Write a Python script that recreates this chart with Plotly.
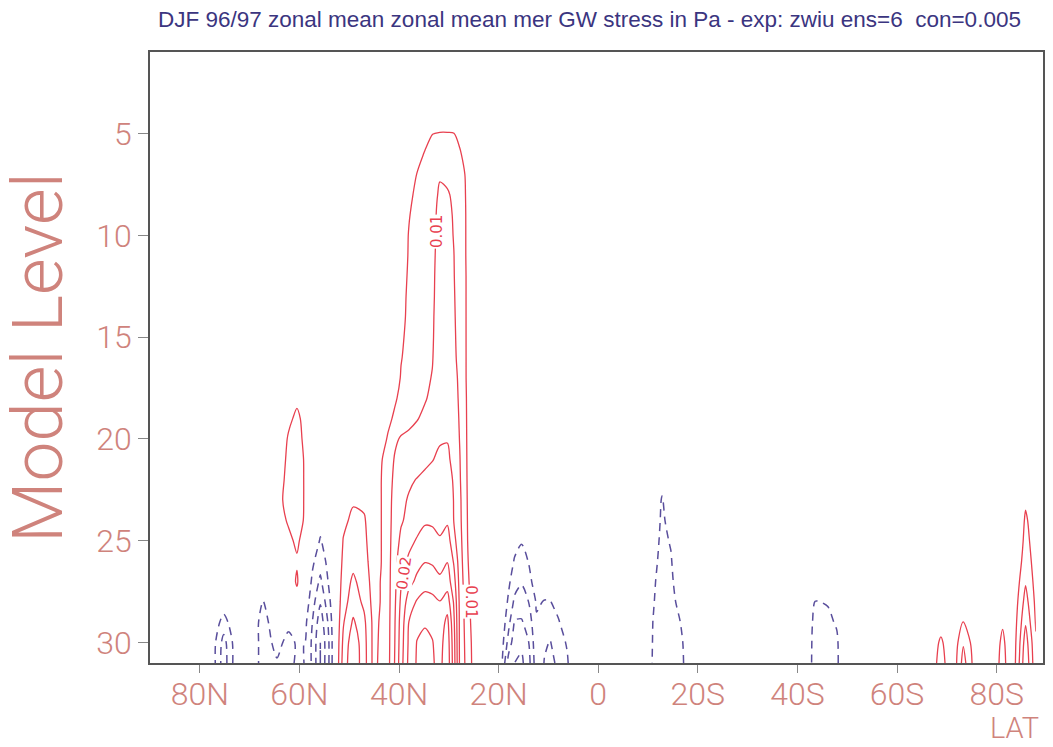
import plotly.graph_objects as go

# ---------------- data ----------------
levels = list(range(1, 32))  # model levels 1..31

# latitude columns of the data grid (deg, + = N)
lat = [87.86, 78.0, 75.2, 72.2, 70.0, 67.3, 64.5, 62.2, 60.5, 58.8, 57.4, 55.8,
       54.2, 52.8, 51.2, 49.2, 47.0, 45.2, 43.6, 42.2, 40.8, 39.6, 38.0, 36.4,
       34.8, 33.3, 31.8, 30.3, 29.0, 27.8, 26.5, 25.2, 23.8, 21.0, 19.5, 18.0,
       16.8, 15.4, 14.0, 12.4, 10.8, 9.6, 8.0, 6.2, 4.4, -9.0, -11.0, -12.8,
       -14.6, -16.4, -18.6, -41.1, -43.6, -46.1, -47.9, -49.6, -66.5, -68.8,
       -71.0, -73.3, -76.3, -79.0, -81.2, -83.0, -84.6, -85.8, -87.86]

# column profiles of stress (Pa), listed from level 31 upward; higher levels are 0
profiles = {
    75.2: [-0.0127, -0.012, -0.007, -0.002],
    67.3: [-0.0075, -0.0075, -0.0075, -0.0052, -0.001],
    64.5: [-0.0055, -0.0035, -0.001, 0, 0, 0.001, 0.002, 0.003, 0.003, 0.0025, 0.002, 0.001],
    62.2: [-0.007, -0.0065, -0.0037, -0.001, 0.002, 0.003, 0.004, 0.0055, 0.007, 0.0065,
           0.006, 0.0055, 0.004, 0.002],
    60.5: [-0.004, -0.0045, -0.001, 0.003, 0.0056, 0.0045, 0.0058, 0.0065, 0.007, 0.007,
           0.0068, 0.0065, 0.006, 0.004, 0.001],
    58.8: [-0.0052, -0.0051, -0.004, -0.002, 0, 0.002, 0.003, 0.0045, 0.0045, 0.0045,
           0.0045, 0.004, 0.0035, 0.002],
    57.4: [-0.011, -0.011, -0.010, -0.008, -0.006, -0.004, -0.001, 0.0005, 0.001, 0.001, 0.001],
    55.8: [-0.02, -0.02, -0.018, -0.0145, -0.011, -0.008, -0.0055, -0.003, -0.001],
    54.2: [-0.011, -0.011, -0.0095, -0.007, -0.0048, -0.0035, -0.002, -0.001],
    51.2: [0.012, 0.011, 0.0095, 0.008, 0.007, 0.006, 0.0052, 0.004, 0.002],
    49.2: [0.019, 0.0185, 0.0158, 0.0125, 0.011, 0.0085, 0.007, 0.006, 0.0045, 0.002],
    47.0: [0.012, 0.0118, 0.011, 0.009, 0.0075, 0.0065, 0.006, 0.0055, 0.004, 0.001],
    45.2: [0.004, 0.004, 0.004, 0.0035, 0.0033, 0.003, 0.0025, 0.002, 0.002, 0.0015, 0.001],
    19.5: [-0.003, -0.002, -0.001],
    18.0: [-0.0175, -0.012, -0.0085, -0.006, -0.004, -0.002],
    16.8: [-0.02, -0.018, -0.0155, -0.011, -0.008, -0.0055, -0.003, -0.001],
    15.4: [-0.021, -0.019, -0.0155, -0.0125, -0.0095, -0.0075, -0.0045, -0.002],
    14.0: [-0.017, -0.0152, -0.013, -0.010, -0.007, -0.0048, -0.002],
    12.4: [-0.007, -0.0065, -0.0055, -0.0045, -0.002],
    10.8: [-0.0102, -0.0095, -0.0075, -0.0052, -0.003, -0.001],
    9.6: [-0.0125, -0.0102, -0.0085, -0.0052, -0.003, -0.001],
    8.0: [-0.008, -0.007, -0.0055, -0.003, -0.001],
    6.2: [-0.0055, -0.0045, -0.002],
    -11.0: [-0.0055, -0.0053, -0.0051, -0.0045, -0.004, -0.003, -0.002, -0.001],
    -12.8: [-0.009, -0.0088, -0.0085, -0.008, -0.0075, -0.007, -0.0065, -0.006, -0.0055, -0.003],
    -14.6: [-0.008, -0.0078, -0.0075, -0.007, -0.0062, -0.0055, -0.0045, -0.003, -0.001],
    -16.4: [-0.0075, -0.0068, -0.0052, -0.0032, -0.0015],
    -43.6: [-0.0072, -0.007, -0.0065, -0.0052, -0.002],
    -46.1: [-0.0072, -0.007, -0.006, -0.0047, -0.002],
    -47.9: [-0.006, -0.0058, -0.0045, -0.002],
    -68.8: [0.008, 0.0062, 0.002],
    -73.3: [0.012, 0.0095, 0.0052, 0.002],
    -81.2: [0.0075, 0.0065, 0.0042, 0.001],
    -84.6: [0.0105, 0.0095, 0.008, 0.0065, 0.0051, 0.0035, 0.002, 0.001],
    -85.8: [0.019, 0.0175, 0.0145, 0.012, 0.0095, 0.008, 0.007, 0.006, 0.004, 0.002],
    -87.86: [0.0062, 0.0056, 0.0045, 0.0038, 0.0032, 0.0026, 0.0018, 0.001],
}

# subtropical northern plume, one row per model level
plume_lat = [43.6, 42.2, 40.8, 39.6, 38.0, 36.4, 34.8, 33.3, 31.8, 30.3, 29.0, 27.8, 26.5, 25.2]
plume_rows = {
    31: [0.0058, 0.0085, 0.0155, 0.023, 0.0315, 0.0355, 0.038, 0.0355, 0.0335, 0.0385, 0.0275, 0.0142, 0.0088, 0.0042],
    30: [0.0056, 0.0084, 0.0152, 0.0225, 0.031, 0.0352, 0.0375, 0.0352, 0.033, 0.038, 0.027, 0.014, 0.0085, 0.004],
    29: [0.0054, 0.0083, 0.015, 0.022, 0.0302, 0.0335, 0.034, 0.034, 0.032, 0.0365, 0.026, 0.014, 0.008, 0.0035],
    28: [0.0052, 0.0082, 0.0145, 0.021, 0.0275, 0.0305, 0.0325, 0.0318, 0.0302, 0.0325, 0.0245, 0.0138, 0.0075, 0.003],
    27: [0.0052, 0.0082, 0.014, 0.0195, 0.0235, 0.026, 0.0275, 0.027, 0.026, 0.0275, 0.022, 0.0132, 0.0068, 0.0026],
    26: [0.0049, 0.0082, 0.0135, 0.0178, 0.021, 0.0235, 0.0248, 0.0245, 0.0232, 0.0248, 0.0195, 0.0125, 0.0062, 0.0022],
    25: [0.0049, 0.0082, 0.0128, 0.016, 0.0185, 0.0205, 0.0225, 0.0222, 0.0205, 0.0225, 0.0165, 0.0118, 0.0058, 0.002],
    24: [0.0049, 0.0082, 0.0122, 0.0145, 0.0162, 0.0178, 0.0192, 0.019, 0.0185, 0.0192, 0.0149, 0.0112, 0.0057, 0.0018],
    23: [0.0049, 0.0082, 0.0118, 0.0138, 0.0155, 0.0168, 0.0182, 0.0185, 0.0182, 0.0185, 0.0148, 0.011, 0.0056, 0.0015],
    22: [0.0049, 0.008, 0.0112, 0.0128, 0.0142, 0.0152, 0.0162, 0.0168, 0.0172, 0.017, 0.0145, 0.0105, 0.0055, 0.0012],
    21: [0.0045, 0.0075, 0.0105, 0.0115, 0.012, 0.0128, 0.0138, 0.0148, 0.016, 0.0158, 0.0138, 0.0102, 0.0054, 0.001],
    20: [0.003, 0.0055, 0.0092, 0.0105, 0.011, 0.0115, 0.012, 0.0128, 0.0145, 0.0148, 0.013, 0.0098, 0.0053, 0.001],
    19: [0.003, 0.004, 0.0058, 0.0075, 0.0088, 0.0098, 0.0108, 0.0118, 0.0142, 0.0145, 0.0125, 0.0095, 0.0052, 0.001],
    18: [0.001, 0.002, 0.0045, 0.006, 0.007, 0.008, 0.0097, 0.0108, 0.0135, 0.0138, 0.012, 0.0092, 0.0051, 0.001],
    17: [0, 0.001, 0.003, 0.0053, 0.0065, 0.0075, 0.0092, 0.0102, 0.013, 0.013, 0.0115, 0.009, 0.0049, 0.001],
    16: [0, 0, 0.002, 0.0048, 0.0062, 0.0072, 0.0088, 0.0098, 0.0125, 0.0125, 0.011, 0.0085, 0.0049, 0.001],
    15: [0, 0, 0.0015, 0.0044, 0.006, 0.0071, 0.0086, 0.0096, 0.0122, 0.0124, 0.0108, 0.0082, 0.0049, 0.001],
    14: [0, 0, 0.001, 0.004, 0.0058, 0.007, 0.0085, 0.0095, 0.012, 0.0122, 0.0106, 0.008, 0.0049, 0.001],
    13: [0, 0, 0.001, 0.0038, 0.0057, 0.0068, 0.0082, 0.0093, 0.0119, 0.0121, 0.0104, 0.0079, 0.0049, 0.001],
    12: [0, 0, 0.001, 0.0035, 0.0055, 0.0066, 0.008, 0.0092, 0.0118, 0.012, 0.0102, 0.0078, 0.0049, 0.001],
    11: [0, 0, 0.001, 0.0032, 0.0053, 0.0065, 0.008, 0.009, 0.0117, 0.0118, 0.0101, 0.0076, 0.0048, 0.001],
    10: [0, 0, 0, 0.003, 0.0052, 0.0065, 0.008, 0.0088, 0.0115, 0.0115, 0.0098, 0.0075, 0.0048, 0.001],
    9:  [0, 0, 0, 0.0025, 0.0048, 0.0063, 0.0078, 0.0088, 0.0112, 0.0112, 0.0096, 0.0074, 0.0048, 0.001],
    8:  [0, 0, 0, 0.002, 0.004, 0.006, 0.0075, 0.0088, 0.0105, 0.0105, 0.0092, 0.0072, 0.0047, 0.001],
    7:  [0, 0, 0, 0.001, 0.003, 0.0051, 0.0068, 0.008, 0.0097, 0.0088, 0.0082, 0.0068, 0.0045, 0.001],
    6:  [0, 0, 0, 0, 0.002, 0.0035, 0.0053, 0.0068, 0.0075, 0.0072, 0.0068, 0.0056, 0.003, 0],
    5:  [0, 0, 0, 0, 0, 0.002, 0.0035, 0.0049, 0.0052, 0.0052, 0.0051, 0.0035, 0.0015, 0],
    4:  [0, 0, 0, 0, 0, 0, 0, 0.001, 0.0015, 0.0015, 0.001, 0, 0, 0],
}

x_tickvals = [80, 60, 40, 20, 0, -20, -40, -60, -80]
x_ticktext = ["80N", "60N", "40N", "20N", "0", "20S", "40S", "60S", "80S"]
y_tickvals = [5, 10, 15, 20, 25, 30]

# contour labels: (text, lat, level, angle)
contour_labels = [("0.01", 32.4, 9.8, -90), ("0.02", 38.9, 26.6, -82), ("0.01", 25.6, 28.0, 90)]

# ---------------- build grid ----------------
col = {la: [0.0] * 31 for la in lat}
for la, prof in profiles.items():
    for i, v in enumerate(prof):
        col[la][30 - i] = v
for lev, row in plume_rows.items():
    for la, v in zip(plume_lat, row):
        col[la][lev - 1] = v
xs = sorted(lat)
Z = [[col[la][k] for la in xs] for k in range(31)]

RED = "#e8404f"
BLUE = "#594e9c"
SALMON = "#cf837c"
LIGHT = "Roboto, DejaVu Sans"

fig = go.Figure()
fig.add_trace(go.Contour(
    x=xs, y=levels, z=Z, showscale=False, hoverinfo="skip",
    contours=dict(start=0.005, end=0.1, size=0.005, coloring="none"),
    line=dict(color=RED, width=1.3, smoothing=0.8),
))
fig.add_trace(go.Contour(
    x=xs, y=levels, z=Z, showscale=False, hoverinfo="skip",
    contours=dict(start=-0.1, end=-0.004, size=0.005, coloring="none"),
    line=dict(color=BLUE, width=1.5, dash="8px,6px", smoothing=0.8),
))

for txt, la, lv, ang in contour_labels:
    fig.add_annotation(x=la, y=lv, xref="x", yref="y", text=txt, showarrow=False,
                       textangle=ang, font=dict(family="DejaVu Sans", size=15, color=RED),
                       bgcolor="white", borderpad=0)

fig.add_annotation(text="DJF 96/97 zonal mean zonal mean mer GW stress in Pa - exp: zwiu ens=6  con=0.005",
                   xref="paper", yref="paper", x=0.492, y=1.0, yshift=33, xanchor="center",
                   yanchor="middle", showarrow=False,
                   font=dict(family="Liberation Sans", size=22.5, color="#3b3580"))
fig.add_annotation(text="Model Level", xref="paper", yref="paper", x=-0.126, y=0.5,
                   xanchor="center", yanchor="middle", textangle=-90, showarrow=False,
                   font=dict(family=LIGHT, size=71, color=SALMON, weight=300))
fig.add_annotation(text="LAT", xref="paper", yref="paper", x=0.998, y=-0.106,
                   xanchor="right", yanchor="middle", showarrow=False,
                   font=dict(family=LIGHT, size=29, color=SALMON, weight=300))

fig.update_xaxes(range=[90, -89.3], tickvals=x_tickvals, ticktext=x_ticktext,
                 ticks="outside", ticklen=8, tickcolor="#888", tickwidth=1.3,
                 ticklabelstandoff=-6,
                 showline=True, linecolor="#555", linewidth=1.5, mirror=True,
                 showgrid=False, zeroline=False,
                 tickfont=dict(family=LIGHT, size=32, color=SALMON, weight=300))
fig.update_yaxes(range=[31, 1], tickvals=y_tickvals,
                 ticks="outside", ticklen=10, tickcolor="#888", tickwidth=1.3,
                 showline=True, linecolor="#555", linewidth=1.5, mirror=True,
                 showgrid=False, zeroline=False,
                 tickfont=dict(family=LIGHT, size=32, color=SALMON, weight=300))

fig.update_layout(width=1053, height=747, margin=dict(l=150, r=8, t=52, b=84),
                  paper_bgcolor="white", plot_bgcolor="white", showlegend=False)

fig.write_html("out.html")
